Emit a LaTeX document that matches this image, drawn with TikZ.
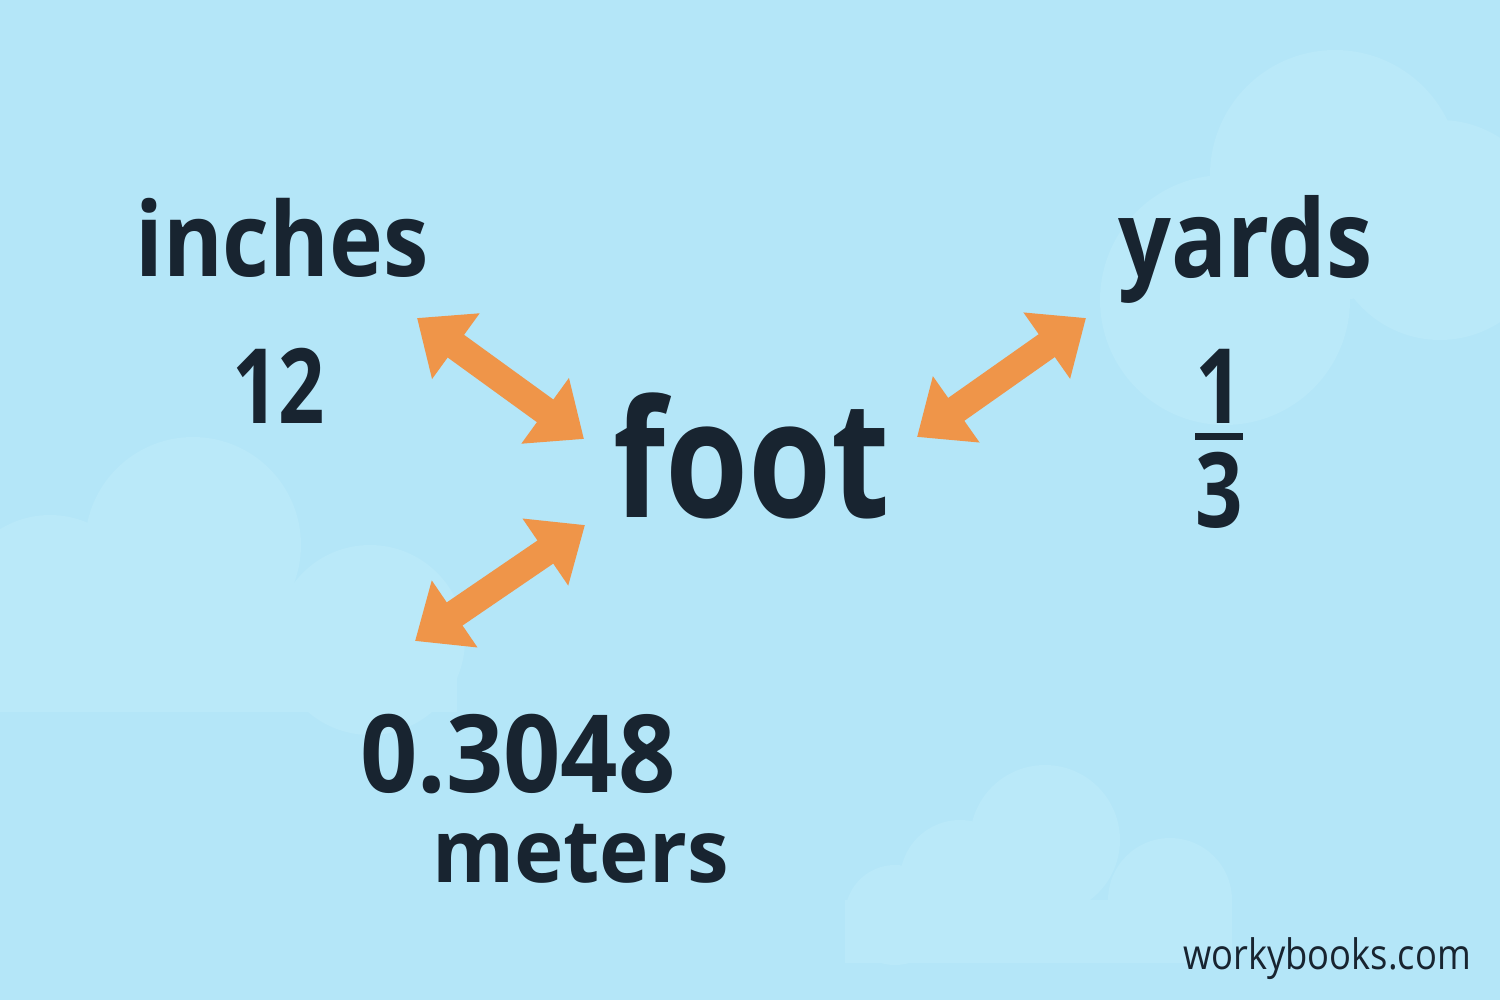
\documentclass[tikz,border=0pt]{standalone}
\usepackage{fontspec}
\setmainfont{Open Sans}
\usetikzlibrary{arrows.meta}
\definecolor{sky}{RGB}{180,230,248}
\definecolor{cloud}{RGB}{186,233,249}
\definecolor{ink}{RGB}{24,36,48}
\definecolor{orng}{RGB}{239,149,73}
\newcommand{\fsz}[1]{\fontsize{#1}{#1}\selectfont}
\tikzset{
  lbl/.style={anchor=base west, inner sep=0pt, text=ink, font=\bfseries},
  dbl/.style={draw=orng, line width=28pt,
    {Triangle[length=48pt,width=78pt]}-{Triangle[length=48pt,width=78pt]}},
  cloudfill/.style={fill=cloud, draw=none}
}
\begin{document}
\begin{tikzpicture}[x=1pt,y=-1pt]
\fill[sky] (0,0) rectangle (1500,1000);
\useasboundingbox (0,0) rectangle (1500,1000);
% clouds
\fill[cloudfill] (1335,175) circle (125);
\fill[cloudfill] (1225,300) circle (125);
\fill[cloudfill] (1440,230) circle (110);
\fill[cloudfill] (193,545) circle (108);
\fill[cloudfill] (50,610) circle (95);
\fill[cloudfill] (370,640) circle (95);
\fill[cloudfill] (0,600) rectangle (457,712);
\fill[cloudfill] (895,915) circle (50);
\fill[cloudfill] (960,880) circle (60);
\fill[cloudfill] (1045,840) circle (75);
\fill[cloudfill] (1170,900) circle (62);
\fill[cloudfill] (845,900) rectangle (1232,963);
% texts
\node[lbl] (inches) at (135,277) {\fsz{103}\scalebox{0.885}[1]{inches}};
\node[lbl] (twelve) at (232,423) {\fsz{104}\scalebox{0.78}[1]{12}};
\node[lbl] (foot) at (613,517) {\fsz{163}\scalebox{0.825}[1]{foot}};
\node[lbl] (yards) at (1118,278) {\fsz{108}\scalebox{0.86}[1]{yards}};
\node[lbl, anchor=base] (one) at (1219,424) {\fsz{104}\scalebox{0.8}[1]{1}};
\node[fill=ink, minimum width=48pt, minimum height=7pt, inner sep=0pt] (bar) at (1219,436.5) {};
\node[lbl, anchor=base] (three) at (1219,527) {\fsz{104}\scalebox{0.8}[1]{3}};
\node[lbl] (meters0) at (360,792) {\fsz{108}\scalebox{0.93}[1]{0.3048}};
\node[lbl] (meters) at (432,882) {\fsz{88}\scalebox{0.95}[1]{meters}};
\node[anchor=base west, inner sep=0pt, text=ink] (wb) at (1183,969) {\fsz{42}\scalebox{0.865}[1]{workybooks.com}};
% arrow end points
\coordinate (a1) at (417,318);
\coordinate (a2) at (584,439);
\coordinate (b1) at (917,437);
\coordinate (b2) at (1086,318);
\coordinate (c1) at (585,525);
\coordinate (c2) at (415,641);
\draw[dbl] (a1) -- (a2);
\draw[dbl] (b1) -- (b2);
\draw[dbl] (c1) -- (c2);
\end{tikzpicture}
\end{document}
